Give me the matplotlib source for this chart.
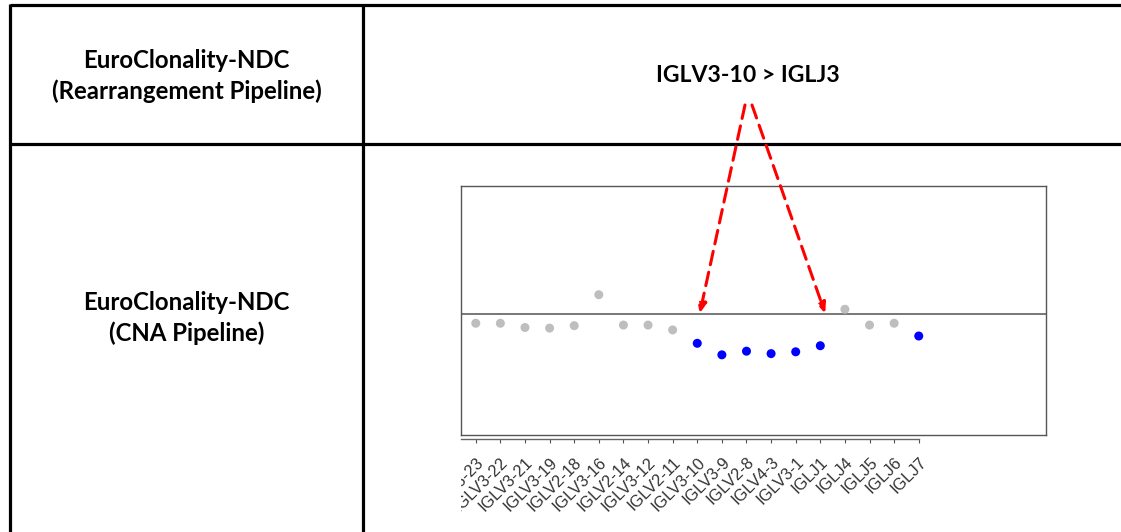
import matplotlib.pyplot as plt
from matplotlib.transforms import Bbox, TransformedBbox

W, H = 1121, 532

segments = ["IGLV3-23", "IGLV3-22", "IGLV3-21", "IGLV3-19", "IGLV2-18", "IGLV3-16",
            "IGLV2-14", "IGLV3-12", "IGLV2-11", "IGLV3-10", "IGLV3-9", "IGLV2-8",
            "IGLV4-3", "IGLV3-1", "IGLJ1", "IGLJ4", "IGLJ5", "IGLJ6", "IGLJ7"]
log_ratio = [-0.16, -0.16, -0.23, -0.24, -0.20, 0.31, -0.19, -0.19, -0.27,
             -0.49, -0.68, -0.62, -0.66, -0.63, -0.53, 0.07, -0.19, -0.16, -0.37]
deleted = [False] * 9 + [True] * 6 + [False] * 3 + [True]

row_labels = [["EuroClonality-NDC", "(Rearrangement Pipeline)"],
              ["EuroClonality-NDC", "(CNA Pipeline)"]]
header = "IGLV3-10 > IGLJ3"

fig = plt.figure(figsize=(W / 100, H / 100), dpi=100)

# background axes in pixel coords for the table
bg = fig.add_axes([0, 0, 1, 1])
bg.set_xlim(0, W)
bg.set_ylim(H, 0)
bg.axis("off")

lw = 2.3
bg.plot([10, W], [5, 5], color="black", lw=lw, solid_capstyle="butt")
bg.plot([10, W], [144, 144], color="black", lw=lw, solid_capstyle="butt")
bg.plot([10, 10], [4, H], color="black", lw=lw, solid_capstyle="butt")
bg.plot([363, 363], [4, H], color="black", lw=lw, solid_capstyle="butt")

font = dict(family="Lato", weight="bold", fontsize=17.3, color="black",
            ha="center", va="center")
for lines, yc in zip(row_labels, [60, 302]):
    for k, line in enumerate(lines):
        bg.text(186.5, yc + 31 * k, line, **font)
bg.text(748, 75, header, **dict(font, fontsize=16.6))

# the copy-number plot
ax = fig.add_axes([461 / W, (H - 435) / H, (1046 - 461) / W, (435 - 186) / H])
ax.set_xlim(-0.6, 23.17)
ax.set_ylim(-2.0, 2.1)
ax.axhline(0, color="#777777", lw=1.4, zorder=1)

idx = list(range(len(segments)))
cols = ["#0000ff" if d else "#bebebe" for d in deleted]
ax.scatter(idx, log_ratio, s=42, c=cols, edgecolors="none", zorder=3)

for sp in ax.spines.values():
    sp.set_color("#555555")
    sp.set_linewidth(1.0)
ax.plot([0, 1], [0, 0], transform=ax.transAxes, color="#555555", lw=1.0,
        clip_on=False)
ax.spines["bottom"].set_position(("outward", 3))
ax.spines["bottom"].set_bounds(-0.6, 18)
ax.spines["bottom"].set_color("#666666")

ax.set_yticks([])
ax.set_xticks(idx, segments)
ax.tick_params(axis="x", length=3, width=0.8, color="#555555", pad=8)
clip = TransformedBbox(Bbox([[461 / W, 0], [1, 1]]), fig.transFigure)
for lbl in ax.get_xticklabels():
    lbl.set_rotation(45)
    lbl.set_ha("right")
    lbl.set_va("top")
    lbl.set_rotation_mode("anchor")
    lbl.set_fontfamily("Liberation Sans")
    lbl.set_fontsize(11.8)
    lbl.set_color("#333333")
    lbl.set_clip_box(clip)
    lbl.set_clip_on(True)

# dashed red arrows from the header down to the breakpoints
arrow = dict(arrowstyle="-|>,head_length=0.6,head_width=0.25", color="red",
             lw=2.2, linestyle=(0, (4.5, 2.5)), shrinkA=0, shrinkB=0)
ax.annotate("", xy=(9.1, 0), xycoords="data", xytext=(745, 105),
            textcoords=bg.transData, arrowprops=arrow, annotation_clip=False)
ax.annotate("", xy=(14.2, 0), xycoords="data", xytext=(752, 105),
            textcoords=bg.transData, arrowprops=arrow, annotation_clip=False)

fig.savefig("out.png", dpi=100)
